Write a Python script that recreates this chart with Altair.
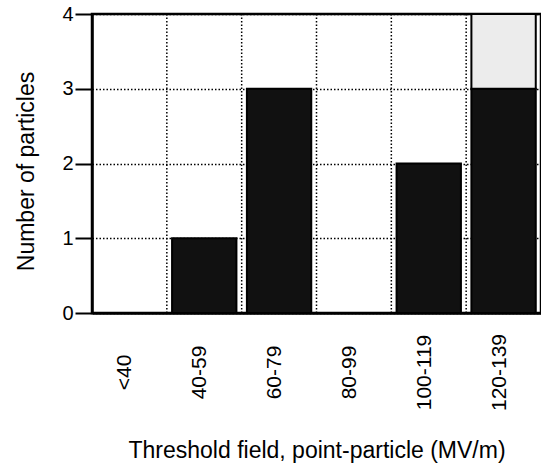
import altair as alt
import pandas as pd

# Threshold-field bins and particle counts per bin
categories = ["<40", "40-59", "60-79", "80-99", "100-119", "120-139"]
solid_counts = [0, 1, 3, 0, 2, 3]
stippled_counts = [0, 0, 0, 0, 0, 1]
y_ticks = [0, 1, 2, 3, 4]

rows = []
for cat, s, d in zip(categories, solid_counts, stippled_counts):
    rows.append({"bin": cat, "segment": "solid", "seg_order": 0, "count": s})
    rows.append({"bin": cat, "segment": "stippled", "seg_order": 1, "count": d})
bars_df = pd.DataFrame(rows)
bars_df = bars_df[bars_df["count"] > 0]

bins_df = pd.DataFrame({"bin": categories})

FONT = "Liberation Sans"

x_scale = alt.Scale(domain=categories, paddingInner=0, paddingOuter=0)
y_scale = alt.Scale(domain=[0, 4], nice=False)

# dotted separators between the bins
separators = alt.Chart(bins_df).mark_rule(
    color="black", strokeWidth=1.5, strokeDash=[1.5, 2]
).encode(
    x=alt.X("bin:N", bandPosition=0, scale=x_scale, sort=categories),
    y=alt.datum(4),
    y2=alt.datum(0),
)

bars = alt.Chart(bars_df).mark_bar(
    width=alt.RelativeBandSize(0.86), stroke="black", strokeWidth=2
).encode(
    x=alt.X(
        "bin:N",
        scale=x_scale,
        sort=categories,
        axis=alt.Axis(
            title="Threshold field, point-particle (MV/m)",
            titleFontSize=23,
            titleFontWeight="normal",
            titleFont=FONT,
            titleColor="black",
            titleBaseline="alphabetic",
            titleY=144,
            labelAngle=-90,
            labelAlign="center",
            labelBaseline="middle",
            labelPadding=59,
            labelOffset=-4,
            labelFontSize=21,
            labelFont=FONT,
            labelColor="black",
            ticks=False,
            grid=False,
            domainColor="black",
            domainWidth=2.5,
        ),
    ),
    y=alt.Y(
        "count:Q",
        stack="zero",
        scale=y_scale,
        axis=alt.Axis(
            title="Number of particles",
            titleFontSize=23,
            titleFontWeight="normal",
            titleFont=FONT,
            titleColor="black",
            titleAngle=270,
            titleAlign="center",
            titleBaseline="alphabetic",
            titleX=-59,
            titleY=157,
            values=y_ticks,
            format="d",
            labelFontSize=20,
            labelFont=FONT,
            labelColor="black",
            labelPadding=2,
            tickSize=17,
            tickColor="black",
            tickWidth=2,
            domainColor="black",
            domainWidth=2.5,
            grid=True,
            gridColor="black",
            gridWidth=1.5,
            gridDash=[1.5, 2],
        ),
    ),
    color=alt.Color(
        "segment:N",
        scale=alt.Scale(domain=["solid", "stippled"], range=["#111111", "#ececec"]),
        legend=None,
    ),
    order=alt.Order("seg_order:Q"),
)

chart = alt.layer(separators, bars).properties(
    width=449,
    height=299,
    autosize=alt.AutoSizeParams(type="none"),
    padding={"left": 92, "top": 14, "right": 0, "bottom": 155},
    background="white",
).configure_view(
    stroke="black", strokeWidth=2.5
)

chart.save("out.html", embed_options={"renderer": "svg", "actions": False})
